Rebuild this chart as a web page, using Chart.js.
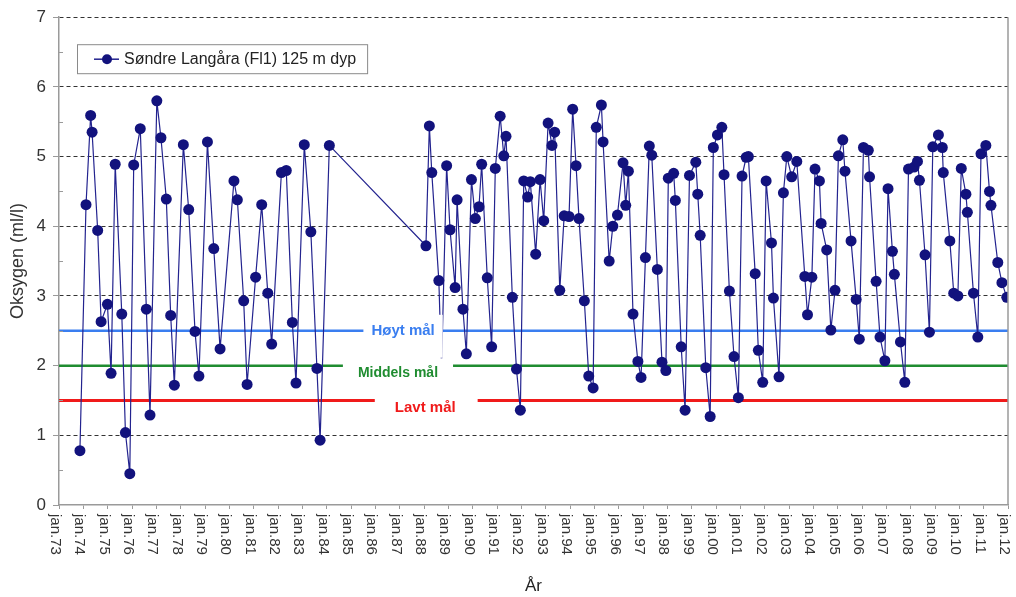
<!DOCTYPE html>
<html>
<head>
<meta charset="utf-8">
<script src="https://cdn.jsdelivr.net/npm/chart.js@4"></script>
<style>
  body { margin: 0; background: #fff; }
  canvas { display: block; }
</style>
</head>
<body>
<canvas id="oxyChart" width="1016" height="597"></canvas>
<script>
// sample dates as decimal years
const years = [
    1973.86, 1974.11, 1974.30, 1974.36, 1974.59, 1974.73, 1974.99, 1975.14, 1975.31, 1975.58, 1975.73, 1975.91,
    1976.07, 1976.34, 1976.59, 1976.74, 1977.02, 1977.19, 1977.41, 1977.59, 1977.74, 1978.11, 1978.33, 1978.59, 1978.75,
    1979.10, 1979.36, 1979.62, 1980.19, 1980.33, 1980.59, 1980.73, 1981.08, 1981.33, 1981.58, 1981.74, 1982.14, 1982.34, 1982.59, 1982.74,
    1983.08, 1983.35, 1983.60, 1983.73, 1984.11,
    1988.08, 1988.22, 1988.32, 1988.61, 1988.72, 1988.93, 1989.07, 1989.28, 1989.36, 1989.60, 1989.74, 1989.95,
    1990.11, 1990.26, 1990.37, 1990.60, 1990.78, 1990.93, 1991.13, 1991.28, 1991.37, 1991.63, 1991.80, 1991.96,
    1992.10, 1992.26, 1992.37, 1992.59, 1992.77, 1992.92, 1993.10, 1993.26, 1993.37, 1993.58, 1993.76, 1993.96,
    1994.11, 1994.25, 1994.37, 1994.59, 1994.77, 1994.95, 1995.08, 1995.29, 1995.36, 1995.61, 1995.76, 1995.95,
    1996.18, 1996.29, 1996.40, 1996.59, 1996.79, 1996.92, 1997.10, 1997.26, 1997.36, 1997.59, 1997.78, 1997.94,
    1998.04, 1998.26, 1998.33, 1998.57, 1998.73, 1998.91, 1999.17, 1999.25, 1999.35, 1999.58, 1999.76, 1999.89,
    2000.06, 2000.24, 2000.33, 2000.55, 2000.74, 2000.92, 2001.07, 2001.24, 2001.33, 2001.61, 2001.74, 2001.92,
    2002.06, 2002.28, 2002.36, 2002.59, 2002.77, 2002.91, 2003.11, 2003.32, 2003.65, 2003.76, 2003.94,
    2004.07, 2004.25, 2004.32, 2004.55, 2004.72, 2004.89, 2005.03, 2005.21, 2005.30, 2005.55, 2005.76, 2005.89,
    2006.06, 2006.26, 2006.31, 2006.58, 2006.74, 2006.94, 2007.07, 2007.25, 2007.33, 2007.58, 2007.76, 2007.91,
    2008.14, 2008.28, 2008.36, 2008.59, 2008.77, 2008.91, 2009.14, 2009.30, 2009.34, 2009.61, 2009.77, 2009.94,
    2010.08, 2010.27, 2010.33, 2010.58, 2010.76, 2010.89, 2011.09, 2011.24, 2011.30, 2011.58, 2011.75, 2011.95
];

// oxygen (ml/l) at 125 m
const oxygen = [
    0.78, 4.31, 5.59, 5.35, 3.94, 2.63, 2.88, 1.89, 4.89, 2.74, 1.04, 0.45,
    4.88, 5.40, 2.81, 1.29, 5.80, 5.27, 4.39, 2.72, 1.72, 5.17, 4.24, 2.49, 1.85,
    5.21, 3.68, 2.24, 4.65, 4.38, 2.93, 1.73, 3.27, 4.31, 3.04, 2.31, 4.77, 4.80, 2.62, 1.75,
    5.17, 3.92, 1.96, 0.93, 5.16,
    3.72, 5.44, 4.77, 3.22, 1.95, 4.87, 3.95, 3.12, 4.38, 2.81, 2.17, 4.67,
    4.11, 4.28, 4.89, 3.26, 2.27, 4.83, 5.58, 5.01, 5.29, 2.98, 1.95, 1.36,
    4.65, 4.42, 4.64, 3.60, 4.67, 4.08, 5.48, 5.16, 5.35, 3.08, 4.15, 4.14,
    5.68, 4.87, 4.11, 2.93, 1.85, 1.68, 5.42, 5.74, 5.21, 3.50, 4.00, 4.16,
    4.91, 4.30, 4.79, 2.74, 2.06, 1.83, 3.55, 5.15, 5.02, 3.38, 2.05, 1.93,
    4.69, 4.76, 4.37, 2.27, 1.36, 4.73, 4.92, 4.46, 3.87, 1.97, 1.27, 5.13,
    5.31, 5.42, 4.74, 3.07, 2.13, 1.54, 4.72, 4.99, 5.00, 3.32, 2.22, 1.76,
    4.65, 3.76, 2.97, 1.84, 4.48, 5.00, 4.71, 4.93, 3.28, 2.73, 3.27,
    4.82, 4.65, 4.04, 3.66, 2.51, 3.08, 5.01, 5.24, 4.79, 3.79, 2.95, 2.38,
    5.13, 5.09, 4.71, 3.21, 2.41, 2.07, 4.54, 3.64, 3.31, 2.34, 1.76, 4.82,
    4.85, 4.93, 4.66, 3.59, 2.48, 5.14, 5.31, 5.13, 4.77, 3.79, 3.04, 3.00,
    4.83, 4.46, 4.20, 3.04, 2.41, 5.04, 5.16, 4.50, 4.30, 3.48, 3.19, 2.98
];

const tickLabels = [
    'jan.73', 'jan.74', 'jan.75', 'jan.76', 'jan.77', 'jan.78', 'jan.79', 'jan.80', 'jan.81', 'jan.82',
    'jan.83', 'jan.84', 'jan.85', 'jan.86', 'jan.87', 'jan.88', 'jan.89', 'jan.90', 'jan.91', 'jan.92',
    'jan.93', 'jan.94', 'jan.95', 'jan.96', 'jan.97', 'jan.98', 'jan.99', 'jan.00', 'jan.01', 'jan.02',
    'jan.03', 'jan.04', 'jan.05', 'jan.06', 'jan.07', 'jan.08', 'jan.09', 'jan.10', 'jan.11', 'jan.12'
];
const firstYear = 1973;

// target levels
const targetNames = ['Høyt mål', 'Middels mål', 'Lavt mål'];
const targetValues = [2.5, 2.0, 1.5];

const seriesName = 'Søndre Langåra (Fl1) 125 m dyp';

const FONT = "'Liberation Sans', Arial, sans-serif";
const NAVY = '#12127d';
const targetColors = ['#3a7ef0', '#1f8c30', '#f01a1a'];
const targetWidths = [2.5, 2.5, 3];
// where each target label sits (year, value) and the white box padding round it
const targetLabelPos = [
    { x: 1987.14, y: 2.5,  font: 'bold 15px ', pad: [8, 8, 16, 27] },
    { x: 1986.93, y: 1.89, font: 'bold 14px ', pad: [15, 15, 15, 15] },
    { x: 1988.05, y: 1.39, font: 'bold 15px ', pad: [20, 22, 15, 12] }
];

const lastYear = firstYear + tickLabels.length - 1;

const datasets = [];
targetValues.forEach((v, i) => {
    datasets.push({
        label: targetNames[i],
        data: [{ x: firstYear, y: v }, { x: lastYear, y: v }],
        borderColor: targetColors[i],
        borderWidth: targetWidths[i],
        pointRadius: 0,
        order: 2
    });
});
datasets.push({
    label: seriesName,
    data: years.map((y, i) => ({ x: y, y: oxygen[i] })),
    borderColor: '#23238f',
    borderWidth: 1.2,
    pointRadius: 5.5,
    pointBackgroundColor: NAVY,
    pointBorderColor: NAVY,
    pointBorderWidth: 0,
    tension: 0,
    order: 1
});

const extras = {
    id: 'extras',
    afterDatasetsDraw(chart) {
        const ctx = chart.ctx;
        const xs = chart.scales.x, ys = chart.scales.y;
        ctx.save();
        targetLabelPos.forEach((p, i) => {
            ctx.font = p.font + FONT;
            const cx = xs.getPixelForValue(p.x);
            const cy = ys.getPixelForValue(p.y);
            const w = ctx.measureText(targetNames[i]).width;
            ctx.fillStyle = '#fff';
            ctx.fillRect(cx - w / 2 - p.pad[0], cy - p.pad[2], w + p.pad[0] + p.pad[1], p.pad[2] + p.pad[3]);
            ctx.fillStyle = targetColors[i];
            ctx.textAlign = 'center';
            ctx.textBaseline = 'middle';
            ctx.fillText(targetNames[i], cx, cy);
        });
        ctx.restore();
    },
    afterDraw(chart) {
        const ctx = chart.ctx;
        const xs = chart.scales.x, ys = chart.scales.y;
        const area = chart.chartArea;
        ctx.save();

        // right frame
        ctx.strokeStyle = '#9a9a9a';
        ctx.lineWidth = 1.5;
        ctx.beginPath();
        ctx.moveTo(area.right, area.top);
        ctx.lineTo(area.right, area.bottom);
        ctx.stroke();

        // minor y ticks at half steps
        ctx.lineWidth = 1;
        for (let v = 0.5; v < 7; v += 1) {
            const py = Math.round(ys.getPixelForValue(v)) + 0.5;
            ctx.beginPath();
            ctx.moveTo(area.left, py);
            ctx.lineTo(area.left + 4, py);
            ctx.stroke();
        }

        // x tick labels, turned clockwise
        ctx.fillStyle = '#333';
        ctx.font = '15px ' + FONT;
        ctx.textAlign = 'left';
        ctx.textBaseline = 'middle';
        tickLabels.forEach((t, i) => {
            const px = xs.getPixelForValue(firstYear + i);
            ctx.save();
            ctx.translate(px - 4, area.bottom + 9);
            ctx.rotate(Math.PI / 2);
            ctx.fillText(t, 0, 0);
            ctx.restore();
        });

        // legend box
        const lx = area.left + 18, ly = area.top + 27;
        ctx.font = '16px ' + FONT;
        const tw = ctx.measureText(seriesName).width;
        ctx.fillStyle = '#fff';
        ctx.fillRect(lx, ly, tw + 58, 29);
        ctx.strokeStyle = '#8a8a8a';
        ctx.lineWidth = 1;
        ctx.strokeRect(lx + 0.5, ly + 0.5, tw + 58, 29);
        ctx.strokeStyle = '#23238f';
        ctx.lineWidth = 1.5;
        ctx.beginPath();
        ctx.moveTo(lx + 17, ly + 15);
        ctx.lineTo(lx + 42, ly + 15);
        ctx.stroke();
        ctx.fillStyle = NAVY;
        ctx.beginPath();
        ctx.arc(lx + 30, ly + 15, 5, 0, Math.PI * 2);
        ctx.fill();
        ctx.fillStyle = '#222';
        ctx.textBaseline = 'middle';
        ctx.fillText(seriesName, lx + 47, ly + 15.5);

        ctx.restore();
    }
};

new Chart(document.getElementById('oxyChart'), {
    type: 'line',
    data: { datasets: datasets },
    options: {
        responsive: false,
        animation: false,
        events: [],
        layout: { padding: { top: 17, right: 8, left: 0, bottom: 0 } },
        plugins: { legend: { display: false }, tooltip: { enabled: false } },
        scales: {
            x: {
                type: 'linear',
                min: firstYear,
                max: lastYear,
                afterBuildTicks: s => { s.ticks = tickLabels.map((_, i) => ({ value: firstYear + i })); },
                afterFit: s => { s.height = 92; },
                ticks: { display: false },
                grid: { drawOnChartArea: false, tickLength: 4, tickColor: '#9a9a9a' },
                border: { color: '#9a9a9a', width: 1.5 },
                title: {
                    display: true,
                    text: 'År',
                    color: '#222',
                    font: { family: FONT, size: 17 },
                    padding: { top: 0, bottom: 0 }
                }
            },
            y: {
                min: 0,
                max: 7,
                afterFit: s => { s.width = 59; },
                ticks: {
                    stepSize: 1,
                    padding: 7,
                    color: '#333',
                    font: { family: FONT, size: 17 }
                },
                grid: {
                    tickLength: 6,
                    tickColor: '#9a9a9a',
                    color: c => (c.tick && c.tick.value > 0) ? '#333' : 'rgba(0,0,0,0)',
                    lineWidth: 1
                },
                border: { color: '#9a9a9a', width: 1.5, dash: [4, 3] },
                title: {
                    display: true,
                    text: 'Oksygen (ml/l)',
                    color: '#333',
                    font: { family: FONT, size: 18 },
                    padding: { top: 7, bottom: 4 }
                }
            }
        }
    },
    plugins: [extras]
});
</script>
</body>
</html>
